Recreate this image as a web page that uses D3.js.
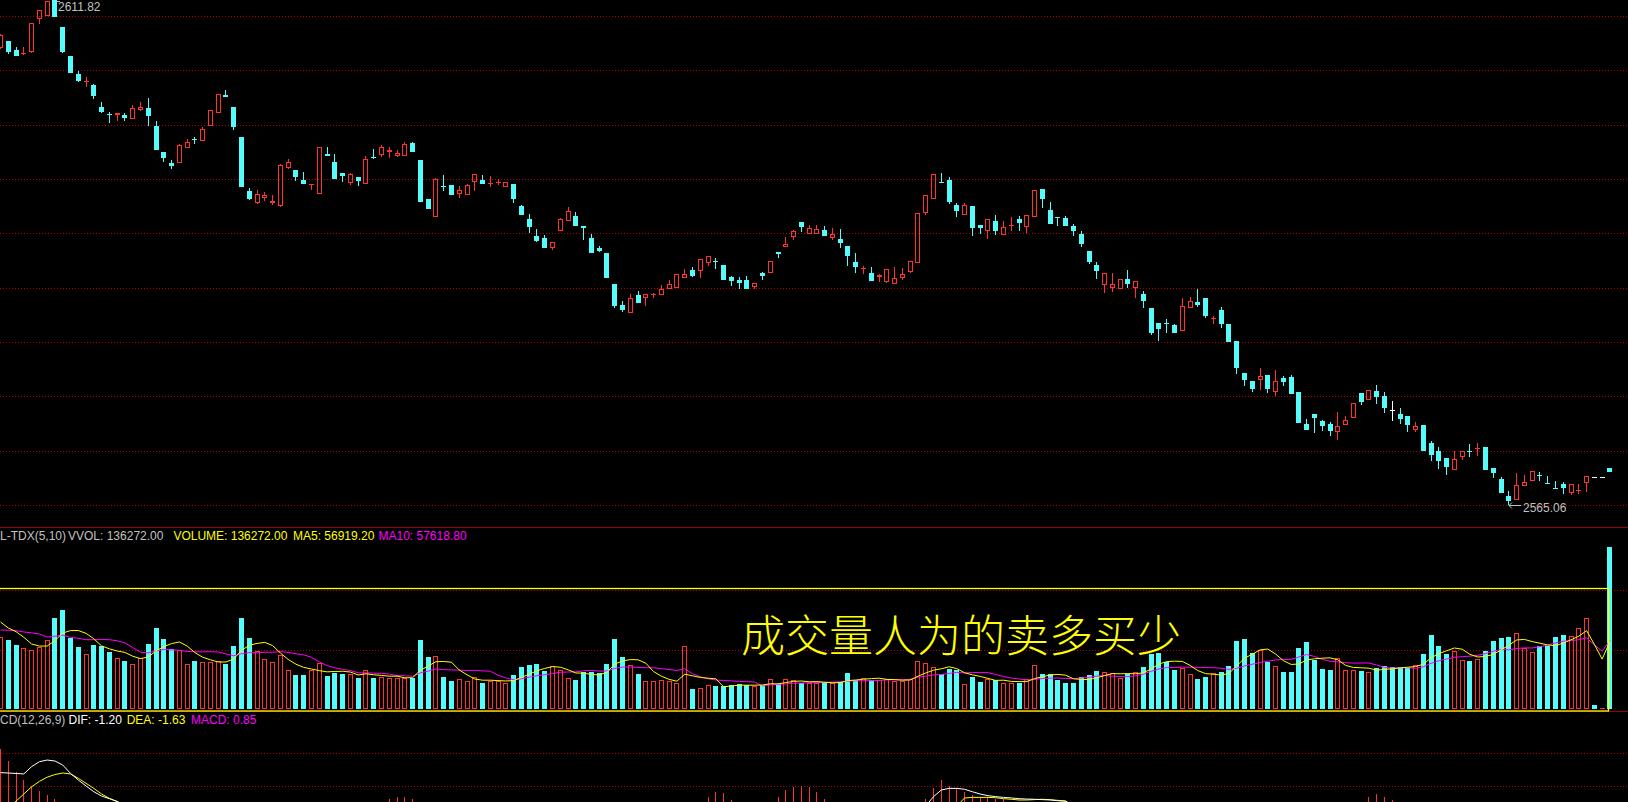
<!DOCTYPE html>
<html><head><meta charset="utf-8">
<script src="https://cdn.jsdelivr.net/npm/d3@7/dist/d3.min.js"></script>
<style>
html,body{margin:0;padding:0;background:#000;overflow:hidden;}
svg{display:block;}
text{font-family:"Liberation Sans",Arial,sans-serif;}
</style></head><body>
<svg id="chart" width="1628" height="802"></svg>
<script>
// ---------------- DATA ----------------
const openPrices=[
2607.38,2608.02,2607.19,2606.86,2607.00,2610.03,2610.37,2611.82,2609.32,2606.63,
2604.97,2604.27,2603.95,2601.91,2601.30,2601.17,2601.17,2600.83,2601.63,2601.82,
2600.15,2597.74,2596.73,2596.73,2598.14,2598.99,2598.79,2600.18,2601.38,2603.02,
2601.91,2599.13,2594.13,2593.02,2593.49,2593.02,2592.74,2596.26,2596.08,2595.15,
2594.69,2593.88,2597.56,2596.82,2595.80,2594.87,2595.43,2594.81,2597.30,2597.49,
2597.74,2597.40,2597.40,2598.58,2597.00,2593.39,2591.75,2594.57,2594.69,2593.86,
2593.76,2594.97,2595.15,2594.78,2594.92,2594.50,2594.78,2592.74,2591.54,2589.97,
2589.78,2588.86,2590.46,2591.38,2591.82,2590.89,2589.78,2588.86,2588.39,2585.52,
2583.58,2582.86,2584.50,2584.25,2584.52,2584.53,2585.09,2585.18,2586.10,2586.82,
2586.75,2587.49,2587.69,2587.28,2586.17,2585.89,2585.89,2585.27,2586.54,2586.54,
2588.48,2588.98,2589.87,2591.26,2590.18,2590.18,2590.52,2589.78,2589.69,2589.04,
2587.56,2586.97,2586.54,2586.20,2585.71,2585.55,2586.08,2586.66,2587.49,2592.12,
2593.42,2595.00,2595.15,2592.84,2591.94,2592.74,2590.98,2590.46,2591.36,2590.09,
2590.94,2591.54,2590.83,2591.75,2594.32,2592.37,2591.73,2591.63,2590.89,2590.15,
2588.58,2587.28,2585.46,2585.18,2585.09,2585.98,2585.18,2584.60,2583.30,2581.91,
2581.93,2581.72,2581.17,2583.33,2583.85,2584.23,2582.32,2583.11,2581.82,2580.24,
2577.28,2576.54,2576.66,2577.09,2575.55,2576.82,2576.91,2575.52,2572.56,2573.48,
2572.84,2572.56,2571.82,2572.46,2573.11,2575.43,2574.81,2575.61,2575.15,2573.85,
2573.48,2573.30,2572.00,2572.46,2570.80,2570.06,2569.41,2568.30,2569.50,2570.03,
2570.24,2570.43,2568.48,2567.46,2565.89,2565.52,2566.82,2567.28,2567.87,2567.09,
2566.63,2567.00,2566.17,2566.41,2567.09,2567.62,2567.62,2568.48];
const highPrices=[
2608.67,2608.02,2607.47,2607.47,2609.69,2610.89,2611.77,2611.82,2609.32,2606.63,
2605.25,2604.69,2604.04,2602.37,2601.45,2601.36,2601.36,2602.10,2602.37,2602.75,
2600.62,2597.74,2597.00,2598.49,2598.95,2599.13,2600.06,2601.63,2603.12,2603.49,
2601.91,2599.13,2594.41,2594.23,2594.04,2593.76,2596.63,2597.10,2596.08,2595.89,
2594.78,2598.21,2598.21,2597.56,2595.80,2595.80,2595.43,2597.37,2598.02,2598.39,
2598.21,2597.93,2598.67,2598.67,2597.00,2593.39,2595.34,2595.61,2594.69,2594.60,
2594.78,2595.71,2595.61,2595.52,2595.24,2594.97,2594.78,2592.84,2592.00,2590.61,
2590.06,2589.45,2591.63,2592.65,2592.19,2590.89,2590.15,2589.04,2588.39,2585.52,
2583.95,2584.60,2584.87,2584.60,2584.69,2585.43,2585.89,2586.45,2586.91,2587.10,
2587.84,2588.11,2587.93,2587.28,2586.26,2586.17,2586.26,2585.59,2586.63,2587.65,
2588.48,2589.87,2590.52,2591.26,2590.98,2590.98,2590.89,2590.71,2590.61,2589.04,
2588.39,2587.19,2587.10,2586.45,2586.91,2587.10,2587.00,2587.65,2592.10,2593.76,
2595.71,2595.80,2595.43,2593.02,2593.02,2592.74,2590.98,2591.54,2591.91,2591.36,
2591.73,2591.82,2591.91,2594.23,2594.32,2593.11,2591.73,2591.82,2591.08,2590.43,
2588.58,2587.56,2586.54,2586.54,2585.98,2586.82,2585.80,2584.87,2583.30,2581.91,
2582.28,2581.82,2584.23,2584.32,2585.06,2584.23,2582.56,2583.39,2581.82,2580.24,
2577.28,2576.54,2577.74,2577.09,2577.56,2577.00,2577.09,2575.52,2573.02,2573.48,
2572.93,2572.74,2573.67,2573.30,2574.50,2575.43,2575.71,2576.17,2575.52,2574.69,
2574.04,2573.30,2572.74,2572.46,2570.98,2570.43,2569.41,2570.06,2570.06,2570.71,
2570.80,2570.43,2568.48,2567.65,2566.35,2568.02,2567.83,2568.21,2568.11,2567.74,
2567.28,2567.19,2567.00,2567.00,2567.74,2567.62,2567.62,2568.48];
const lowPrices=[
2607.28,2606.85,2606.63,2606.73,2606.91,2609.63,2610.34,2610.25,2606.95,2605.05,
2604.23,2603.76,2602.65,2601.36,2600.43,2600.62,2600.62,2600.83,2601.54,2600.15,
2597.90,2596.82,2596.17,2596.73,2598.14,2598.49,2598.79,2600.18,2601.38,2602.82,
2599.81,2594.50,2593.30,2592.93,2593.21,2592.84,2592.65,2596.17,2595.06,2594.75,
2594.23,2593.86,2597.35,2595.20,2594.97,2594.69,2594.60,2594.81,2597.10,2597.28,
2597.19,2597.28,2597.40,2597.70,2593.08,2592.44,2591.75,2594.13,2593.73,2593.49,
2593.76,2594.13,2594.75,2594.50,2594.69,2594.50,2593.02,2591.88,2590.24,2589.41,
2588.83,2588.67,2590.46,2591.38,2590.86,2589.60,2588.36,2588.48,2586.05,2583.30,
2582.93,2582.86,2583.73,2583.48,2584.23,2584.53,2585.09,2585.18,2586.10,2586.17,
2586.08,2587.19,2586.91,2585.86,2585.34,2585.06,2585.03,2585.09,2585.89,2586.54,
2587.93,2588.98,2589.60,2590.34,2590.18,2590.18,2589.94,2589.60,2588.86,2587.19,
2586.54,2586.45,2585.77,2585.71,2585.61,2585.55,2585.89,2586.54,2587.49,2591.94,
2593.42,2594.87,2592.96,2591.73,2591.94,2589.97,2590.15,2589.69,2590.06,2590.09,
2590.43,2590.43,2590.24,2591.75,2592.56,2591.05,2590.89,2590.86,2589.97,2588.95,
2587.37,2585.98,2584.69,2584.78,2585.09,2585.15,2584.23,2583.30,2580.80,2580.24,
2580.98,2580.95,2581.17,2583.33,2583.39,2582.37,2581.82,2581.45,2580.12,2577.19,
2576.08,2575.52,2575.71,2575.43,2575.15,2576.08,2575.31,2572.62,2571.97,2571.72,
2571.91,2571.45,2571.08,2572.46,2573.11,2574.32,2574.81,2574.41,2573.58,2572.93,
2572.56,2571.82,2571.82,2570.03,2569.13,2568.39,2567.83,2568.30,2569.22,2569.50,
2569.59,2568.27,2567.56,2566.14,2565.06,2565.52,2566.82,2567.28,2567.28,2567.01,
2566.55,2566.08,2565.98,2566.08,2566.26,2567.62,2567.62,2568.11];
const closePrices=[
2608.58,2607.03,2606.66,2606.91,2609.69,2610.89,2611.73,2610.27,2607.00,2605.09,
2604.35,2604.34,2602.93,2601.45,2601.25,2601.33,2600.89,2601.82,2601.91,2601.08,
2597.93,2597.19,2596.45,2598.39,2598.67,2598.90,2599.87,2601.63,2603.12,2602.84,
2600.09,2594.53,2593.39,2593.86,2593.76,2593.21,2596.54,2596.82,2595.43,2594.78,
2594.78,2598.21,2597.37,2595.24,2595.52,2595.71,2595.06,2597.10,2597.23,2598.21,
2597.93,2597.65,2598.49,2597.74,2593.11,2592.47,2595.24,2594.50,2593.76,2594.23,
2594.69,2595.71,2594.78,2594.87,2594.99,2594.97,2593.39,2591.91,2590.80,2589.50,
2588.86,2589.41,2591.54,2592.28,2590.89,2590.73,2588.39,2588.58,2586.08,2583.48,
2583.11,2584.23,2583.76,2584.60,2584.60,2585.06,2585.52,2586.45,2586.45,2586.26,
2587.84,2588.11,2587.61,2585.89,2585.80,2585.61,2585.06,2585.59,2586.26,2587.65,
2588.33,2589.23,2590.43,2590.80,2590.71,2590.61,2589.97,2590.15,2589.32,2588.11,
2587.10,2587.02,2585.80,2586.35,2586.91,2586.08,2586.45,2587.65,2592.10,2593.76,
2595.71,2594.93,2593.11,2592.28,2592.84,2590.71,2590.71,2591.54,2590.43,2590.80,
2591.03,2591.17,2591.91,2594.23,2593.39,2591.08,2591.63,2590.89,2590.43,2589.23,
2587.56,2586.73,2586.54,2585.52,2585.98,2585.52,2585.80,2583.95,2580.98,2581.35,
2581.85,2580.98,2583.48,2583.95,2583.58,2582.56,2582.41,2581.82,2580.15,2577.74,
2576.63,2575.80,2577.00,2575.80,2576.54,2576.45,2575.34,2572.65,2572.00,2573.11,
2572.37,2571.91,2572.37,2572.93,2574.50,2574.59,2575.71,2575.06,2574.04,2573.85,
2573.02,2572.46,2572.37,2570.06,2569.69,2569.13,2568.58,2569.32,2570.06,2569.96,
2570.30,2568.30,2568.02,2566.17,2565.43,2566.91,2567.19,2568.21,2567.80,2567.02,
2566.56,2566.63,2567.00,2566.47,2567.74,2567.62,2567.62,2568.11];
const volumes=[
60660,58130,53920,51390,49710,51980,58130,76670,83410,60070,
52240,46340,53920,53080,48020,42970,40440,37910,42970,54760,
68240,58980,50550,49710,37910,40440,39600,39600,40440,37910,
53080,76670,59820,48870,42130,39600,45500,32860,28650,28650,
32860,38500,27800,30330,29490,29490,26120,32860,26120,26960,
26120,26120,26120,26500,58130,43810,44650,26960,23590,25280,
23590,26960,21910,23590,23590,21910,28650,35390,37070,37910,
32020,36230,32860,26120,24430,31170,31170,30330,37910,58980,
43810,37070,29490,23590,23590,24430,23590,21910,53080,16850,
17690,20220,19380,19380,20220,21060,20220,19380,20220,25280,
21060,25280,24430,21910,21910,21910,22750,21910,22750,30330,
24430,26120,24430,24430,25280,23590,23590,25280,40440,38760,
35390,29490,33700,32860,21060,26960,22750,25280,24430,21910,
21910,21910,25280,37070,29490,29490,24430,21910,21910,26960,
28650,32020,31170,30330,26120,29490,31170,35390,46340,47180,
39600,32860,34540,29490,25280,26960,30080,31170,36230,57290,
58980,47180,49460,39600,36230,31170,31170,51390,56450,41280,
33700,32860,42970,32860,32860,32020,31170,34540,36230,35390,
35390,34540,37070,46340,62350,53080,46340,48870,41280,40440,
42130,48870,57290,59820,60660,64030,51390,48020,53000,53300,
60900,62600,61792,68000,76800,3000,524,136272];
// volumes of the 9 sessions just before the first visible one (only feed the MA lines)
const volumesBefore=[60000,58000,62000,57000,62040,83400,69440,75040,77920];
const volumeGridTicks=[50000,100000];

// MACD pane (only the upper part of the pane is visible)
const difLeftStart=0;
const difLeft=[4.78,4.75,4.71,4.67,5.28,5.69,5.83,5.75,5.42,4.72,4.17,3.67,3.19,2.83,2.61,2.39,2.0,1.5];
const deaLeftStart=1;
const deaLeft=[1.83,2.4,3.0,3.6,4.05,4.4,4.62,4.75,4.67,4.31,3.89,3.47,3.0,2.64,2.36,2.0,1.67];
const difMidStart=119;
const difMid=[2.0,2.78,3.33,3.47,3.47,3.39,3.19,3.0,2.86,2.78,2.72,2.67,2.61,2.58,2.56,2.53,2.5,2.44,2.39,2.0];
const deaMidStart=123;
const deaMid=[2.0,2.67,2.72,2.72,2.72,2.69,2.61,2.56,2.5,2.5,2.53,2.56,2.53,2.47,2.42,2.0];
const macdBarIdx=[0,1,2,3,4,5,6,7,8,50,51,52,53,91,92,93,94,100,101,102,103,104,105,106,119,120,121,122,123,124,125,126,127,128,129,176,177,178,179];
const macdBarVal=[6.75,5.75,4.83,4.17,3.67,3.25,2.92,2.58,2.33,2.61,2.72,2.72,2.56,2.78,3.17,3.06,2.5,2.72,3.33,3.61,3.67,3.56,3.17,2.61,2.61,3.5,4.17,3.67,3.5,3.17,2.94,2.78,2.72,2.61,2.56,2.78,3.0,2.72,2.5];

const highLabel="2611.82", lowLabel="2565.06";
const volLegend=[["L-TDX(5,10)","#c0c0c0",0],["VVOL: 136272.00","#c0c0c0",68],["VOLUME: 136272.00","#ffff00",173.4],["MA5: 56919.20","#ffff00",293],["MA10: 57618.80","#ff00ff",378.5]];
const macdLegend=[["CD(12,26,9)","#c0c0c0",0],["DIF: -1.20","#ffffff",68.5],["DEA: -1.63","#ffff00",126.7],["MACD: 0.85","#ff00ff",191]];
const annotation="成交量人为的卖多买少";

// ---------------- DRAW ----------------
const W=1628,H=802,N=openPrices.length;
const RED="#ff3232",CYAN="#54fcfc",GRID="#b40000",SEP="#9a0000";
const svg=d3.select("#chart");
svg.append("rect").attr("width",W).attr("height",H).attr("fill","#000");

const x=d3.scaleBand().domain(d3.range(N)).range([-3.3875,-3.3875+7.775*N]).padding(0);
const cx=i=>x(i)+x.bandwidth()/2;
const bl=i=>Math.round(cx(i)-2.5);
const y=d3.scaleLinear().domain([2565.06,2611.82]).range([505,0]);
const vy=d3.scaleLinear().domain([0,150000]).range([709,530.95]);
const my=d3.scaleLinear().domain([0,8]).range([830,734]);

const g=svg.append("g").attr("shape-rendering","crispEdges");
function hline(yy,color,dash,x1,x2){
  const l=g.append("line").attr("x1",x1==null?0:x1).attr("x2",x2==null?W:x2)
    .attr("y1",yy+0.5).attr("y2",yy+0.5).attr("stroke",color).attr("stroke-width",1);
  if(dash) l.attr("stroke-dasharray",dash);
}
// grids
d3.range(10).forEach(k=>hline(Math.round(16+k*54.33),GRID,"1 2"));
volumeGridTicks.forEach(v=>hline(Math.round(vy(v)),GRID,"1 2"));
[753,786].forEach(v=>hline(v,GRID,"1 2"));
// separators
hline(527,SEP,null);
hline(711,SEP,null);

// candles
const cg=svg.append("g").attr("shape-rendering","crispEdges");
for(let i=0;i<N;i++){
  const o=openPrices[i],c=closePrices[i],h=highPrices[i],l=lowPrices[i];
  const L=bl(i),wx=L+2.5;
  const yh=Math.round(y(h)),yl=Math.round(y(l));
  if(c===o){
    const yy=Math.round(y(o));
    if(yl>yh) cg.append("line").attr("x1",wx).attr("x2",wx).attr("y1",yh).attr("y2",yl+1).attr("stroke","#fff");
    cg.append("line").attr("x1",L).attr("x2",L+5).attr("y1",yy+0.5).attr("y2",yy+0.5).attr("stroke","#fff");
    continue;
  }
  let top=Math.round(y(Math.max(o,c))),bot=Math.round(y(Math.min(o,c)));
  if(bot-top<1) bot=top+1;
  const col=c>o?RED:CYAN;
  if(yh<top) cg.append("line").attr("x1",wx).attr("x2",wx).attr("y1",yh).attr("y2",top).attr("stroke",col);
  if(yl>bot) cg.append("line").attr("x1",wx).attr("x2",wx).attr("y1",bot).attr("y2",yl).attr("stroke",col);
  if(c>o && bot-top>2){
    cg.append("rect").attr("x",L+0.5).attr("y",top+0.5).attr("width",4).attr("height",bot-top-1)
      .attr("fill","none").attr("stroke",col);
  }else{
    cg.append("rect").attr("x",L).attr("y",top).attr("width",5).attr("height",bot-top).attr("fill",col);
  }
}

// extreme labels
const lab=svg.append("g").attr("fill","#c0c0c0").attr("font-size","12px");
const hiI=highPrices.indexOf(d3.max(highPrices)), loI=lowPrices.indexOf(d3.min(lowPrices));
lab.append("path").attr("d",`M${bl(hiI)+4},${Math.round(y(d3.max(highPrices)))+1.5}h4`).attr("stroke","#c0c0c0").attr("fill","none");
lab.append("text").attr("x",bl(hiI)+6).attr("y",10.5).text(highLabel);
const ly=Math.round(y(d3.min(lowPrices)))+0.5, lx=bl(loI)+3;
lab.append("path").attr("d",`M${lx},${ly}h12M${lx},${ly}l3,-3M${lx},${ly}l3,3`).attr("stroke","#c0c0c0").attr("fill","none");
lab.append("text").attr("x",lx+14).attr("y",511.5).text(lowLabel);

// volume legend
const vl=svg.append("text").attr("y",540).attr("font-size","12px");
volLegend.forEach(([t,c,xx])=>vl.append("tspan").attr("x",xx).attr("fill",c).text(t));

// volume bars
const vg=svg.append("g").attr("shape-rendering","crispEdges");
for(let i=0;i<N;i++){
  const o=openPrices[i],c=closePrices[i];
  let up=c>o; if(c===o) up=i>0?c>=closePrices[i-1]:true;
  const L=bl(i),top=Math.round(vy(volumes[i])),base=Math.round(vy(0));
  const hgt=Math.max(base-top,1);
  if(up && hgt>2){
    vg.append("rect").attr("x",L+0.5).attr("y",top+0.5).attr("width",4).attr("height",hgt-1).attr("fill","none").attr("stroke",RED);
  }else{
    vg.append("rect").attr("x",L).attr("y",base-hgt).attr("width",5).attr("height",hgt).attr("fill",up?RED:CYAN);
  }
}
// volume MAs
const allVol=volumesBefore.concat(volumes);
const ma=n=>volumes.map((v,i)=>{const j=i+volumesBefore.length;return d3.mean(allVol.slice(j-n+1,j+1));});
const ma5=ma(5),ma10=ma(10);
const vline=d3.line().x((d,i)=>cx(i)).y(d=>vy(d));
svg.append("path").attr("d",vline(ma10)).attr("fill","none").attr("stroke","#ff00ff").attr("stroke-width",1);
svg.append("path").attr("d",vline(ma5)).attr("fill","none").attr("stroke","#ffff00").attr("stroke-width",1);

// annotation box + text
svg.append("rect").attr("x",-2.5).attr("y",588.5).attr("width",1611).attr("height",122.5)
  .attr("fill","none").attr("stroke","#ffff00").attr("stroke-width",1.3);
svg.append("text").attr("x",741).attr("y",652).attr("font-size","44px").attr("font-weight",300)
  .style("font-family",'"Noto Sans CJK SC","Noto Sans CJK TC",sans-serif').attr("fill","#ffff00").text(annotation);

// MACD
const mg=svg.append("g").attr("shape-rendering","crispEdges");
macdBarIdx.forEach((idx,k)=>{
  const wx=bl(idx)+2.5;
  mg.append("line").attr("x1",wx).attr("x2",wx).attr("y1",Math.round(my(macdBarVal[k]))).attr("y2",my(0)).attr("stroke",RED);
});
const segLine=(arr,start)=>d3.line().x((d,i)=>cx(start+i)).y(d=>my(d))(arr);
svg.append("path").attr("d",segLine(deaLeft,deaLeftStart)).attr("fill","none").attr("stroke","#ffff00");
svg.append("path").attr("d",segLine(deaMid,deaMidStart)).attr("fill","none").attr("stroke","#ffff00");
svg.append("path").attr("d",segLine(difLeft,difLeftStart)).attr("fill","none").attr("stroke","#ffffff");
svg.append("path").attr("d",segLine(difMid,difMidStart)).attr("fill","none").attr("stroke","#ffffff");
const ml=svg.append("text").attr("y",724).attr("font-size","12px");
macdLegend.forEach(([t,c,xx])=>ml.append("tspan").attr("x",xx).attr("fill",c).text(t));
</script>
</body></html>
